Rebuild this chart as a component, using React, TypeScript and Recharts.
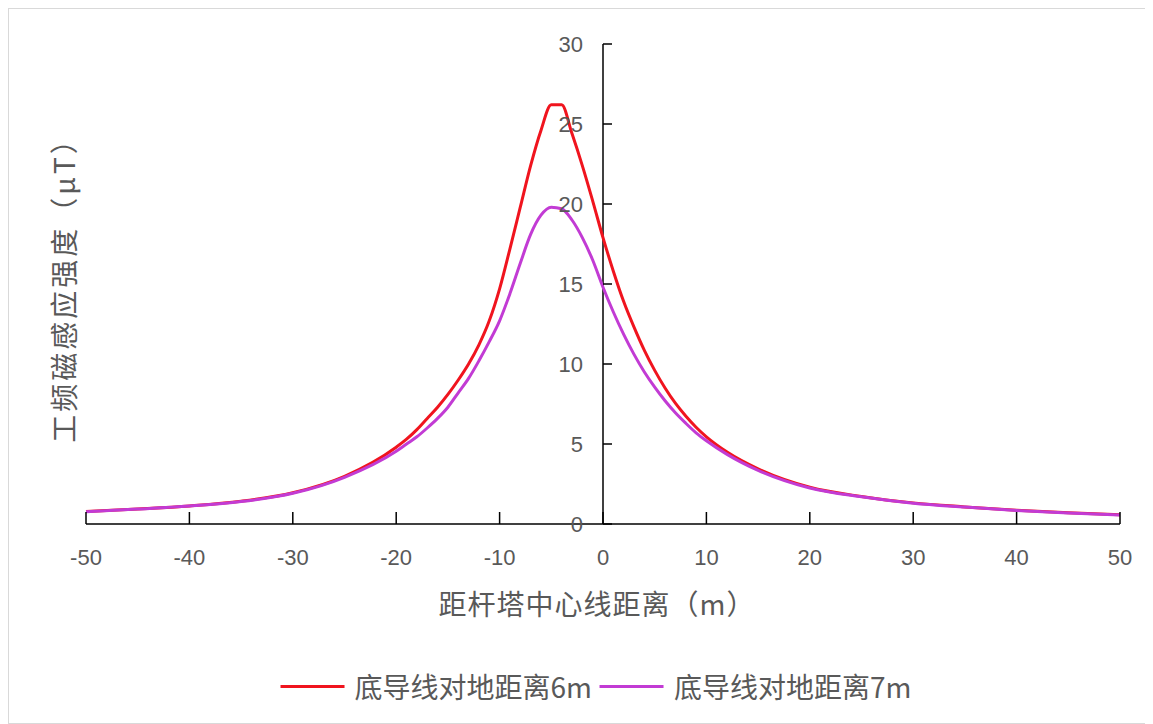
import { LineChart, Line, XAxis, YAxis, ReferenceLine } from 'recharts'

// distance from tower centre line (m)
const DISTANCE = [
  -50, -45, -40, -35, -30, -25, -20, -19, -18, -17, -16, -15, -14, -13, -12, -11, -10, -9, -8, -7, -6, -5,
  -4, -3, -2, -1, 0, 1, 2, 3, 4, 5, 6, 7, 8, 9, 10, 12, 15, 20, 25, 30, 35, 40, 45, 50,
]
// power-frequency magnetic induction (μT), lowest conductor 6 m above ground
const FIELD_6M = [
  0.78, 0.94, 1.13, 1.42, 1.95, 2.98, 4.8, 5.3, 5.9, 6.6, 7.3, 8.1, 9.0, 10.0, 11.2, 12.7, 14.7, 17.2, 19.8, 22.4,
  24.6, 26.2, 26.2, 24.4, 22.4, 20.2, 17.9, 15.8, 13.9, 12.3, 10.85, 9.6, 8.5, 7.55, 6.75, 6.05, 5.45, 4.5, 3.45,
  2.3, 1.72, 1.32, 1.07, 0.86, 0.7, 0.58,
]
// lowest conductor 7 m above ground
const FIELD_7M = [
  0.77, 0.93, 1.12, 1.4, 1.92, 2.92, 4.55, 5.0, 5.45, 6.0, 6.6, 7.3, 8.2, 9.1, 10.2, 11.4, 12.7, 14.4, 16.3, 18.1,
  19.3, 19.8, 19.7, 19.0, 17.9, 16.5, 14.8, 13.25, 11.85, 10.6, 9.5, 8.55, 7.7, 6.95, 6.3, 5.7, 5.2, 4.35, 3.35,
  2.25, 1.7, 1.3, 1.06, 0.85, 0.69, 0.57,
]
const X_TICKS = [-50, -40, -30, -20, -10, 0, 10, 20, 30, 40, 50]
const Y_TICKS = [0, 5, 10, 15, 20, 25, 30]

const SERIES = [
  { key: 'h6', name: '底导线对地距离6m', color: '#f0141e' },
  { key: 'h7', name: '底导线对地距离7m', color: '#c23bd4' },
]

const data = DISTANCE.map((x, i) => ({ x, h6: FIELD_6M[i], h7: FIELD_7M[i] }))

const W = 1138
const H = 714
const MARGIN = { top: 35, right: 27, bottom: 169, left: 76 }
const Y_AXIS_W = 1
const PLOT_W = W - MARGIN.left - Y_AXIS_W - MARGIN.right
const TEXT = '#595959'
const NUM_FONT = '"Liberation Sans", Arial, sans-serif'
const CJK_FONT = '"Noto Sans CJK SC", "Noto Sans", sans-serif'

// y axis sits at x = 0, i.e. the middle of the symmetric x domain
const YTick = ({ x, y, payload }: any) => {
  const ax = x + PLOT_W / 2
  return (
    <g>
      <line x1={ax} x2={ax + 9} y1={y} y2={y} stroke="#000" strokeWidth={1.5} />
      <text x={ax - 20} y={y} textAnchor="end" dominantBaseline="central" fill={TEXT} fontSize={22} fontFamily={NUM_FONT}>
        {payload.value}
      </text>
    </g>
  )
}

const XTick = ({ x, y, payload }: any) => (
  <g>
    <line x1={x} x2={x} y1={y - 12} y2={y} stroke="#000" strokeWidth={1.5} />
    <text x={x} y={y + 33} textAnchor="middle" dominantBaseline="central" fill={TEXT} fontSize={22} fontFamily={NUM_FONT}>
      {payload.value}
    </text>
  </g>
)

export default function App() {
  return (
    <div
      style={{
        position: 'relative',
        width: 1140,
        height: 716,
        boxSizing: 'border-box',
        border: '1px solid #d9d9d9',
        background: '#fff',
      }}
    >
      <LineChart width={W} height={H} data={data} margin={MARGIN}>
        <XAxis
          dataKey="x"
          type="number"
          domain={[-50, 50]}
          ticks={X_TICKS}
          tickSize={0}
          tickMargin={0}
          height={30}
          tick={<XTick />}
          axisLine={{ stroke: '#000', strokeWidth: 1.5 }}
          tickLine={false}
        />
        <YAxis
          type="number"
          domain={[0, 30]}
          ticks={Y_TICKS}
          width={Y_AXIS_W}
          tickSize={0}
          tickMargin={0}
          tick={<YTick />}
          axisLine={false}
          tickLine={false}
          interval={0}
        />
        <ReferenceLine x={0} stroke="#000" strokeWidth={1.5} />
        {SERIES.map((s) => (
          <Line
            key={s.key}
            type="monotone"
            dataKey={s.key}
            name={s.name}
            stroke={s.color}
            strokeWidth={3}
            dot={false}
            isAnimationActive={false}
          />
        ))}
      </LineChart>
      <div
        style={{
          position: 'absolute',
          left: 54,
          top: 274,
          transform: 'translate(-50%, -50%) rotate(-90deg)',
          whiteSpace: 'nowrap',
          fontFamily: CJK_FONT,
          fontSize: 28,
          letterSpacing: 3,
          color: TEXT,
        }}
      >
        工频磁感应强度（μT）
      </div>
      <div
        style={{
          position: 'absolute',
          left: 588,
          top: 594,
          transform: 'translate(-50%, -50%)',
          whiteSpace: 'nowrap',
          fontFamily: CJK_FONT,
          fontSize: 28,
          letterSpacing: 1,
          color: TEXT,
        }}
      >
        距杆塔中心线距离（m）
      </div>
      <div
        style={{
          position: 'absolute',
          left: 591,
          top: 677,
          transform: 'translate(-50%, -50%)',
          display: 'flex',
          alignItems: 'center',
          whiteSpace: 'nowrap',
          fontFamily: CJK_FONT,
          fontSize: 28,
          color: TEXT,
        }}
      >
        {SERIES.map((s) => (
          <div key={s.key} style={{ display: 'flex', alignItems: 'center', marginRight: 8 }}>
            <span style={{ display: 'inline-block', width: 64, height: 3, background: s.color, marginRight: 10 }} />
            <span>{s.name}</span>
          </div>
        ))}
      </div>
    </div>
  )
}
